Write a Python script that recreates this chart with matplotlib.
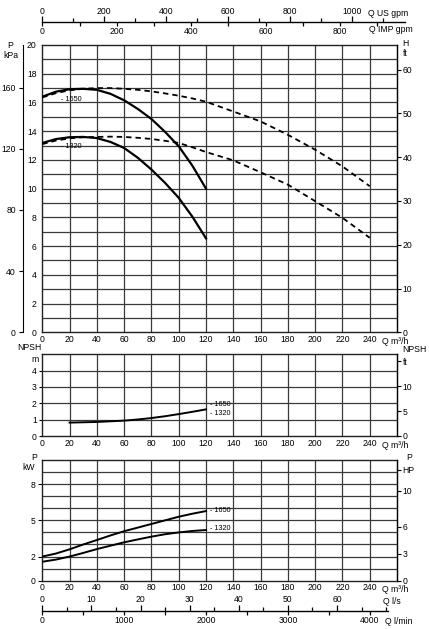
import matplotlib
matplotlib.use("Agg")
import matplotlib.pyplot as plt
import numpy as np

plt.rcParams["font.family"] = ["Liberation Sans", "DejaVu Sans"]

W, H = 429, 629
DPI = 100

# ---------------- data ----------------
q_h = [0, 10, 20, 30, 40, 50, 60, 70, 80, 90, 100, 110, 120]
h_1650 = [16.4, 16.75, 16.92, 16.95, 16.88, 16.6, 16.15, 15.55, 14.85, 13.95, 12.95, 11.6, 10.0]
h_1320 = [13.18, 13.45, 13.58, 13.6, 13.52, 13.25, 12.83, 12.15, 11.33, 10.4, 9.36, 8.05, 6.54]

q_d = [0, 10, 20, 30, 40, 50, 60, 70, 80, 90, 100, 110, 120, 140, 160, 180, 200, 220, 240]
hd_1650 = [16.35, 16.65, 16.85, 16.95, 17.0, 17.0, 16.95, 16.88, 16.77, 16.63, 16.47, 16.28, 16.05,
           15.37, 14.68, 13.75, 12.71, 11.55, 10.17]
hd_1320 = [13.1, 13.35, 13.5, 13.58, 13.6, 13.62, 13.6, 13.54, 13.46, 13.33, 13.18, 12.88, 12.55,
           11.97, 11.14, 10.28, 9.13, 7.97, 6.58]

q_npsh = [20, 30, 40, 50, 60, 70, 80, 90, 100, 110, 120]
npsh = [0.82, 0.84, 0.86, 0.9, 0.94, 1.01, 1.1, 1.21, 1.34, 1.48, 1.63]

q_p = [0, 10, 20, 30, 40, 50, 60, 70, 80, 90, 100, 110, 120]
p_1650 = [2.0, 2.25, 2.6, 3.0, 3.37, 3.75, 4.1, 4.4, 4.7, 5.0, 5.3, 5.55, 5.77]
p_1320 = [1.57, 1.75, 2.0, 2.3, 2.62, 2.9, 3.18, 3.42, 3.65, 3.85, 4.0, 4.12, 4.2]

q_ticks = list(range(0, 241, 20))
h_ticks = list(range(0, 21, 2))
kpa_ticks = [0, 40, 80, 120, 160]
ft_ticks = [0, 10, 20, 30, 40, 50, 60]
npsh_m_ticks = [0, 1, 2, 3, 4]
npsh_ft_ticks = [0, 5, 10]
kw_ticks = [0, 2, 5, 8]
hp_ticks = [0, 3, 6, 10]
us_ticks = [0, 200, 400, 600, 800, 1000]
imp_ticks = [0, 200, 400, 600, 800]
ls_ticks = [0, 10, 20, 30, 40, 50, 60]
lmin_ticks = [0, 1000, 2000, 3000, 4000]
labels = ["1650", "1320"]

# conversions
XMAX = 260
US = 4.4029
IMP = 3.6662
LS = 1 / 3.6
LMIN = 1000 / 60
KPA = 9.39
FT = 1 / 0.3048
HP = 1 / 0.7457

FS = 6.2
GRID_C = "#3a3a3a"

fig = plt.figure(figsize=(W / DPI, H / DPI), dpi=DPI)


def rect(xl, yt, xr, yb):
    return [xl / W, 1 - yb / H, (xr - xl) / W, (yb - yt) / H]


def fx(px):
    return px / W


def fy(py):
    return 1 - py / H


def setup_grid(ax, ymax, ystep):
    ax.set_xlim(0, XMAX)
    ax.set_ylim(0, ymax)
    for v in np.arange(20, XMAX, 20):
        ax.axvline(v, color=GRID_C, lw=0.9, zorder=1)
    for v in np.arange(ystep, ymax, ystep):
        ax.axhline(v, color=GRID_C, lw=0.9, zorder=1)
    for s in ax.spines.values():
        s.set_color("#222222")
        s.set_linewidth(1.0)
    ax.set_xticks(q_ticks)
    ax.set_xticklabels([str(t) for t in q_ticks], fontsize=FS)
    ax.tick_params(axis="x", length=0, pad=2)


# ---------------- main H chart ----------------
ax1 = fig.add_axes(rect(42.3, 45, 397, 332.3))
setup_grid(ax1, 20, 1)
ax1.set_yticks(h_ticks)
ax1.set_yticklabels([str(t) for t in h_ticks], fontsize=FS)
ax1.tick_params(axis="y", length=0, pad=4)
ax1.plot(q_h, h_1650, color="black", lw=1.6, zorder=3)
ax1.plot(q_h, h_1320, color="black", lw=1.6, zorder=3)
ax1.plot(q_d, hd_1650, color="black", lw=1.3, ls=(0, (3, 2.2)), zorder=3)
ax1.plot(q_d, hd_1320, color="black", lw=1.3, ls=(0, (3, 2.2)), zorder=3)
ax1.text(14, 16.2, "- " + labels[0], fontsize=5.2, va="center", ha="left", zorder=4)
ax1.text(14, 12.9, "- " + labels[1], fontsize=5.2, va="center", ha="left", zorder=4)

# kPa axis (far left)
axk = ax1.twinx()
axk.set_ylim(0, 20 * KPA)
axk.yaxis.set_ticks_position("left")
axk.yaxis.set_label_position("left")
axk.spines["left"].set_position(("outward", 14))
axk.spines["left"].set_visible(True)
axk.spines["left"].set_bounds(0, 20 * KPA)
for s in ["right", "top", "bottom"]:
    axk.spines[s].set_visible(False)
axk.set_yticks(kpa_ticks)
axk.set_yticklabels([str(t) for t in kpa_ticks], fontsize=FS)
axk.tick_params(axis="y", length=3, pad=2, width=0.8)

# ft axis (right)
axf = ax1.twinx()
axf.set_ylim(0, 20 * FT)
axf.set_yticks(ft_ticks)
axf.set_yticklabels([str(t) for t in ft_ticks], fontsize=FS)
axf.tick_params(axis="y", length=3, pad=1, width=0.8)
for s in ["left", "top", "bottom"]:
    axf.spines[s].set_visible(False)

fig.text(fx(10), fy(46), "P", fontsize=FS, ha="center", va="center")
fig.text(fx(11), fy(56), "kPa", fontsize=FS, ha="center", va="center")
fig.text(fx(405), fy(44), "H", fontsize=FS, ha="center", va="center")
fig.text(fx(405), fy(54), "ft", fontsize=FS, ha="center", va="center")
fig.text(fx(382), fy(341), "Q m³/h", fontsize=FS, ha="left", va="center")

# ---------------- NPSH chart ----------------
ax2 = fig.add_axes(rect(42.3, 354.3, 397, 436))
setup_grid(ax2, 5, 1)
ax2.set_yticks(npsh_m_ticks)
ax2.set_yticklabels([str(t) for t in npsh_m_ticks], fontsize=FS)
ax2.tick_params(axis="y", length=2, pad=2, width=0.8)
ax2.plot(q_npsh, npsh, color="black", lw=1.4, zorder=3)
ax2.text(123, 1.95, "- " + labels[0], fontsize=5.2, va="center", ha="left")
ax2.text(123, 1.4, "- " + labels[1], fontsize=5.2, va="center", ha="left")
ax2n = ax2.twinx()
ax2n.set_ylim(0, 5 * FT)
ax2n.set_yticks(npsh_ft_ticks + [15])
ax2n.set_yticklabels([str(t) for t in npsh_ft_ticks] + ["ft"], fontsize=FS)
ax2n.tick_params(axis="y", length=3, pad=1, width=0.8)
for s in ["left", "top", "bottom"]:
    ax2n.spines[s].set_visible(False)
fig.text(fx(29), fy(348), "NPSH", fontsize=FS, ha="center", va="center")
fig.text(fx(35), fy(360), "m", fontsize=FS, ha="center", va="center")
fig.text(fx(414), fy(350), "NPSH", fontsize=FS, ha="center", va="center")
fig.text(fx(382), fy(446), "Q m³/h", fontsize=FS, ha="left", va="center")

# ---------------- Power chart ----------------
ax3 = fig.add_axes(rect(42.3, 460, 397, 580.7))
setup_grid(ax3, 10, 1)
ax3.set_yticks(kw_ticks)
ax3.set_yticklabels([str(t) for t in kw_ticks], fontsize=FS)
ax3.tick_params(axis="y", length=3, pad=2, width=0.8)
ax3.plot(q_p, p_1650, color="black", lw=1.4, zorder=3)
ax3.plot(q_p, p_1320, color="black", lw=1.4, zorder=3)
ax3.text(123, 5.8, "- " + labels[0], fontsize=5.2, va="center", ha="left")
ax3.text(123, 4.3, "- " + labels[1], fontsize=5.2, va="center", ha="left")
ax3h = ax3.twinx()
ax3h.set_ylim(0, 10 * HP)
ax3h.set_yticks(hp_ticks + [12.3])
ax3h.set_yticklabels([str(t) for t in hp_ticks] + ["HP"], fontsize=FS)
ax3h.tick_params(axis="y", length=3, pad=1, width=0.8)
for s in ["left", "top", "bottom"]:
    ax3h.spines[s].set_visible(False)
fig.text(fx(34), fy(458), "P", fontsize=FS, ha="center", va="center")
fig.text(fx(29), fy(468), "kW", fontsize=FS, ha="center", va="center")
fig.text(fx(409), fy(458), "P", fontsize=FS, ha="center", va="center")
fig.text(fx(382), fy(590), "Q m³/h", fontsize=FS, ha="left", va="center")


# ---------------- auxiliary flow scales ----------------
def scale_axes(ypix, conv, ticks, minor_step, side, xr_px):
    width_px = xr_px - 42.3
    ax = fig.add_axes([42.3 / W, fy(ypix), width_px / W, 0.0001])
    qmax = width_px / (397 - 42.3) * XMAX
    ax.set_xlim(0, qmax * conv)
    ax.set_ylim(0, 1)
    for s in ["left", "right"]:
        ax.spines[s].set_visible(False)
    ax.spines["top"].set_visible(False)
    ax.spines["bottom"].set_visible(side == "bottom")
    ax.spines["bottom"].set_linewidth(1.0)
    ax.set_yticks([])
    ax.set_xticks(ticks)
    ax.set_xticklabels([str(t) for t in ticks], fontsize=FS)
    ax.set_xticks(np.arange(0, qmax * conv, minor_step), minor=True)
    ax.patch.set_alpha(0)
    if side == "top":
        ax.xaxis.set_ticks_position("top")
        ax.xaxis.set_label_position("top")
        ax.tick_params(axis="x", which="major", length=4, width=0.9, pad=0.5, direction="out")
        ax.tick_params(axis="x", which="minor", length=3, width=0.9, direction="out")
    else:
        ax.tick_params(axis="x", which="major", length=3, width=0.9, pad=0.5, direction="out")
        ax.tick_params(axis="x", which="minor", length=3, width=0.9, direction="out")
    return ax


scale_axes(22.3, US, us_ticks, 100, "top", 405)
scale_axes(22.3, IMP, imp_ticks, 100, "bottom", 405)
fig.text(fx(368), fy(13), "Q US gpm", fontsize=FS, ha="left", va="center")
fig.text(fx(369), fy(30), "Q IMP gpm", fontsize=FS, ha="left", va="center")

scale_axes(610.7, LS, ls_ticks, 5, "top", 388)
scale_axes(610.7, LMIN, lmin_ticks, 500, "bottom", 388)
fig.text(fx(383), fy(601), "Q l/s", fontsize=FS, ha="left", va="center")
fig.text(fx(385), fy(621), "Q l/min", fontsize=FS, ha="left", va="center")

fig.savefig("out.png", dpi=DPI)
